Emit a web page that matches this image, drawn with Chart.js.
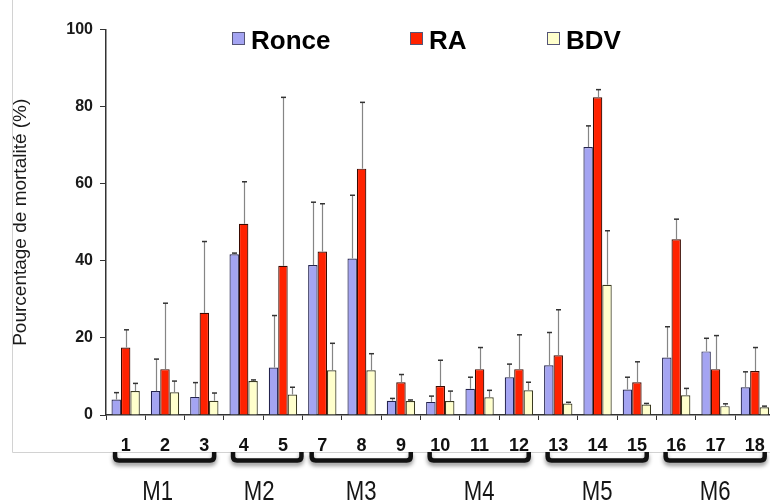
<!DOCTYPE html>
<html>
<head>
<meta charset="utf-8">
<title>Pourcentage de mortalité</title>
<script src="https://cdn.jsdelivr.net/npm/chart.js@4.4.1/dist/chart.umd.min.js"></script>
<style>
  html, body { margin: 0; padding: 0; background: #ffffff; overflow: hidden; }
  #wrap { position: relative; width: 780px; height: 502px; }
</style>
</head>
<body>
<div id="wrap"><canvas id="chart" width="780" height="502"></canvas></div>
<script>
// Sites (there is no site 6)
const sites = ['1', '2', '3', '4', '5', '7', '8', '9', '10', '11', '12', '13', '14', '15', '16', '17', '18'];

// Mean mortality (%) per site and treatment
const ronce = [4.0, 6.2, 4.7, 41.7, 12.3, 38.9, 40.6, 3.7, 3.4, 6.8, 9.8, 12.9, 69.5, 6.6, 14.9, 16.5, 7.2];
const ra    = [17.5, 11.9, 26.5, 49.6, 38.7, 42.4, 63.9, 8.5, 7.5, 11.9, 11.9, 15.5, 82.4, 8.5, 45.6, 11.9, 11.4];
const bdv   = [6.2, 5.9, 3.7, 8.8, 5.3, 11.6, 11.6, 3.6, 3.6, 4.6, 6.4, 3.0, 33.8, 2.7, 5.1, 2.3, 2.0];

// Standard deviations (upper error bars)
const ronceSd = [1.8, 8.3, 3.7, 0.3, 13.5, 16.3, 16.4, 0.6, 1.5, 3.0, 3.4, 8.5, 5.5, 3.2, 8.0, 3.4, 4.0];
const raSd    = [4.6, 17.1, 18.5, 10.9, 43.7, 12.4, 17.2, 2.0, 6.7, 5.6, 8.9, 11.8, 2.0, 5.3, 5.2, 8.7, 6.1];
const bdvSd   = [2.0, 2.9, 2.0, 0.3, 1.9, 7.0, 4.3, 0.3, 2.6, 1.8, 2.1, 0.3, 14.0, 0.3, 1.8, 0.6, 0.3];

// Site groups shown under the axis
const groupNames = ['M1', 'M2', 'M3', 'M4', 'M5', 'M6'];
const groupFirst = ['1', '4', '7', '10', '13', '16'];
const groupLast  = ['3', '5', '9', '12', '15', '18'];

// Y axis ticks
const yTicks = [0, 20, 40, 60, 80, 100];

const FONT = '"Liberation Sans", Arial, Helvetica, sans-serif';

// Thin frame on the left and below the labels
const framePlugin = {
  id: 'frame',
  beforeDraw(chart) {
    const ctx = chart.ctx;
    ctx.save();
    ctx.strokeStyle = '#d2d2d2';
    ctx.lineWidth = 1;
    ctx.beginPath();
    ctx.moveTo(12.5, 0);
    ctx.lineTo(12.5, 452.5);
    ctx.lineTo(chart.width, 452.5);
    ctx.stroke();
    ctx.restore();
  }
};

// Upper error bars from each dataset's sd array
const errorBarPlugin = {
  id: 'errorBars',
  afterDatasetsDraw(chart) {
    const ctx = chart.ctx;
    const y = chart.scales.y;
    ctx.save();
    chart.data.datasets.forEach((ds, i) => {
      const meta = chart.getDatasetMeta(i);
      meta.data.forEach((bar, j) => {
        const sd = ds.sd[j];
        if (!sd) return;
        const top = y.getPixelForValue(ds.data[j] + sd);
        const x = Math.round(bar.x) + 0.5;
        ctx.strokeStyle = '#858585';
        ctx.lineWidth = 1.2;
        ctx.beginPath();
        ctx.moveTo(x, bar.y);
        ctx.lineTo(x, top);
        ctx.stroke();
        ctx.strokeStyle = '#333333';
        ctx.lineWidth = 1.5;
        ctx.beginPath();
        ctx.moveTo(x - 2.5, top);
        ctx.lineTo(x + 2.5, top);
        ctx.stroke();
      });
    });
    ctx.restore();
  }
};

// Legend drawn inside the plot area
const legendPlugin = {
  id: 'topLegend',
  afterDraw(chart) {
    const ctx = chart.ctx;
    const xs = [232, 410, 547];
    ctx.save();
    chart.data.datasets.forEach((ds, i) => {
      const bx = xs[i] + 0.5, by = 32.5;
      ctx.fillStyle = ds.backgroundColor;
      ctx.fillRect(bx, by, 12, 12);
      ctx.strokeStyle = '#555577';
      ctx.lineWidth = 1;
      ctx.strokeRect(bx, by, 12, 12);
      ctx.fillStyle = '#000000';
      ctx.font = 'bold 26px ' + FONT;
      ctx.textBaseline = 'alphabetic';
      ctx.textAlign = 'left';
      ctx.fillText(ds.label, xs[i] + 19, 49);
    });
    ctx.restore();
  }
};

// Brackets and group names under the site labels
const groupPlugin = {
  id: 'groups',
  afterDraw(chart) {
    const ctx = chart.ctx;
    const x = chart.scales.x;
    const step = x.getPixelForValue(1) - x.getPixelForValue(0);
    const rightPad = { M2: 0.47 };
    const labelShift = { M1: -7, M2: -8 };
    groupNames.forEach((name, g) => {
      const x1 = x.getPixelForValue(sites.indexOf(groupFirst[g])) - 0.27 * step;
      const x2 = x.getPixelForValue(sites.indexOf(groupLast[g])) + (rightPad[name] || 0.25) * step;
      const yTop = 452, yBot = 460.5, r = 4;
      ctx.save();
      ctx.shadowColor = 'rgba(0,0,0,0.45)';
      ctx.shadowBlur = 4;
      ctx.shadowOffsetY = 3;
      ctx.strokeStyle = '#111111';
      ctx.lineWidth = 4.5;
      ctx.lineJoin = 'round';
      ctx.lineCap = 'butt';
      ctx.beginPath();
      ctx.moveTo(x1, yTop);
      ctx.lineTo(x1, yBot - r);
      ctx.quadraticCurveTo(x1, yBot, x1 + r, yBot);
      ctx.lineTo(x2 - r, yBot);
      ctx.quadraticCurveTo(x2, yBot, x2, yBot - r);
      ctx.lineTo(x2, yTop);
      ctx.stroke();
      ctx.restore();

      ctx.save();
      ctx.fillStyle = '#151515';
      ctx.font = '27px ' + FONT;
      ctx.textAlign = 'center';
      ctx.textBaseline = 'alphabetic';
      ctx.translate((x1 + x2) / 2 + (labelShift[name] || 0), 500);
      ctx.scale(0.82, 1);
      ctx.fillText(name, 0, 0);
      ctx.restore();
    });
  }
};

new Chart(document.getElementById('chart'), {
  type: 'bar',
  data: {
    labels: sites,
    datasets: [
      { label: 'Ronce', data: ronce, sd: ronceSd, backgroundColor: '#a4a4f2', borderColor: '#23234e', borderWidth: 1.2 },
      { label: 'RA',    data: ra,    sd: raSd,    backgroundColor: '#ff2200', borderColor: '#3a0a00', borderWidth: 1.2 },
      { label: 'BDV',   data: bdv,   sd: bdvSd,   backgroundColor: '#ffffcc', borderColor: '#3a3a20', borderWidth: 1.2 }
    ]
  },
  options: {
    responsive: false,
    animation: false,
    devicePixelRatio: 1,
    layout: { padding: { top: 29.5, right: 4, bottom: 30.4, left: 0 } },
    datasets: { bar: { categoryPercentage: 0.72, barPercentage: 1.0 } },
    plugins: { legend: { display: false }, tooltip: { enabled: false } },
    scales: {
      x: {
        offset: true,
        grid: { offset: true, drawOnChartArea: false, tickLength: 5, color: '#333333', lineWidth: 1 },
        border: { color: '#333333', width: 1.5 },
        ticks: { color: '#111111', font: { family: FONT, size: 18, weight: 'bold' }, padding: 15, maxRotation: 0, autoSkip: false }
      },
      y: {
        min: 0,
        max: 100,
        afterBuildTicks(scale) { scale.ticks = yTicks.map(v => ({ value: v })); },
        afterFit(scale) { scale.width = 106; },
        grid: { drawOnChartArea: false, tickLength: 6, color: '#333333', lineWidth: 1 },
        border: { color: '#333333', width: 1.5 },
        ticks: { color: '#1a1a1a', font: { family: FONT, size: 16, weight: 'bold' }, padding: 7 },
        title: {
          display: true,
          text: 'Pourcentage de mortalité (%)',
          color: '#1a1a1a',
          font: { family: FONT, size: 19, weight: 'normal' },
          padding: { top: 9, bottom: 0 }
        }
      }
    }
  },
  plugins: [framePlugin, errorBarPlugin, legendPlugin, groupPlugin]
});
</script>
</body>
</html>
